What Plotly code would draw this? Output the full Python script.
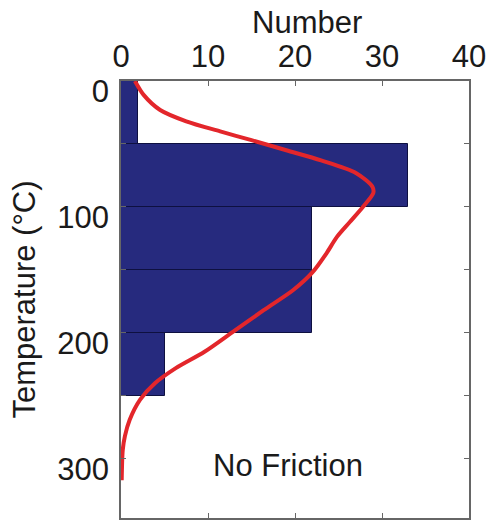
import plotly.graph_objects as go

# Histogram bins (temperature, °C) and counts
bin_centers = [25, 75, 125, 175, 225]
bin_width = 50
counts = [2, 33, 22, 22, 5]

# Smoothed density curve (scaled to counts)
curve_temp = [0, 11, 23, 32, 40, 47, 55, 63, 73, 84, 89, 100, 112, 124, 137, 152,
              166, 182, 199, 215, 228, 240, 253, 269, 282, 293, 317]
curve_num = [1.6, 2.6, 4.5, 7.5, 11.4, 15.0, 19.0, 23.0, 27.0, 28.9, 29.0, 27.8, 26.3,
             24.8, 23.6, 22.0, 19.8, 16.4, 12.9, 9.6, 6.3, 3.9, 2.2, 1.0, 0.45, 0.2, 0.08]

x_ticks = [0, 10, 20, 30, 40]
y_tickvals = [0, 50, 100, 150, 200, 250, 300, 350]
y_ticktext = ["0", "", "100", "", "200", "", "300", ""]

FONT = "Liberation Sans, Arial, Helvetica, sans-serif"
TXT = "#1a1a1a"
FS = 31

fig = go.Figure()
fig.add_trace(go.Bar(
    y=bin_centers, x=counts, width=bin_width, orientation="h",
    marker=dict(color="#262a7e", line=dict(color="#0e1040", width=1)),
    showlegend=False,
))
fig.add_trace(go.Scatter(
    x=curve_num, y=curve_temp, mode="lines",
    line=dict(color="#e3262b", width=4, shape="spline", smoothing=0.8),
    showlegend=False,
))

fig.update_layout(
    width=490, height=520,
    margin=dict(l=121, r=21, t=81, b=0),
    paper_bgcolor="white", plot_bgcolor="white",
    font=dict(family=FONT, size=FS, color=TXT),
    bargap=0,
    annotations=[
        dict(text="No Friction", x=19.2, y=305, xref="x", yref="y",
             showarrow=False, font=dict(family=FONT, size=FS, color=TXT),
             xanchor="center", yanchor="middle"),
        dict(text="Number", x=0.534, y=1.134, xref="paper", yref="paper",
             showarrow=False, font=dict(family=FONT, size=FS, color=TXT),
             xanchor="center", yanchor="middle"),
    ],
)
fig.update_xaxes(
    side="top", range=[0, 40], tickvals=x_ticks,
    ticks="inside", ticklen=5, tickcolor="#666", tickwidth=1,
    showline=True, linecolor="#666", linewidth=1.5, mirror="ticks",
    showgrid=False, zeroline=False,
    tickfont=dict(size=FS),
)
fig.update_yaxes(
    range=[347, 0], tickvals=y_tickvals, ticktext=y_ticktext,
    ticks="inside", ticklen=5, tickcolor="#666", tickwidth=1,
    showline=True, linecolor="#666", linewidth=1.5, mirror="ticks",
    showgrid=False, zeroline=False,
    ticklabelshift=-10, ticklabelstandoff=4,
    title=dict(text="Temperature (°C)", standoff=12, font=dict(size=FS)),
    tickfont=dict(size=FS),
)

fig.write_html("out.html")
